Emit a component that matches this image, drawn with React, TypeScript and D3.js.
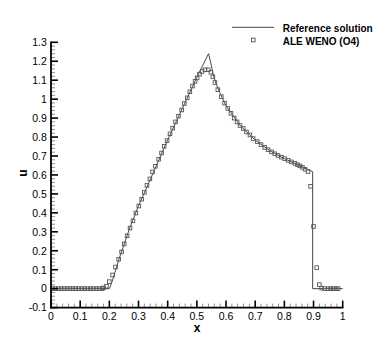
import React from 'react';
import { scaleLinear, line, range } from 'd3';

// reference solution (exact) polyline
const refX = [0, 0.2, 0.21, 0.235, 0.27, 0.3, 0.35, 0.4, 0.45, 0.5, 0.54, 0.548, 0.556, 0.565, 0.58, 0.6, 0.65, 0.7, 0.75, 0.8, 0.85, 0.897, 0.897, 1.0];
const refU = [0, 0, 0.04, 0.165, 0.32, 0.437, 0.61, 0.785, 0.95, 1.115, 1.24, 1.19, 1.13, 1.085, 1.03, 0.965, 0.858, 0.784, 0.728, 0.686, 0.651, 0.617, 0, 0];

// ALE WENO (O4) cell values
const wenoX = [
  0.005, 0.015, 0.025, 0.035, 0.045, 0.055, 0.065, 0.075, 0.085, 0.095, 0.105, 0.115, 0.125, 0.135, 0.145, 0.155, 0.165, 0.175,
  0.18, 0.19, 0.2, 0.211, 0.221, 0.232, 0.242, 0.251, 0.261, 0.271, 0.281, 0.291, 0.301, 0.311, 0.32, 0.329, 0.339, 0.348,
  0.358, 0.369, 0.379, 0.388, 0.398, 0.408, 0.417, 0.427, 0.437, 0.448, 0.457, 0.467, 0.476, 0.485, 0.494, 0.501, 0.509,
  0.518, 0.528, 0.539, 0.548, 0.555, 0.562, 0.572, 0.584, 0.595, 0.606, 0.617, 0.628, 0.638, 0.648, 0.659, 0.67, 0.682,
  0.693, 0.707, 0.72, 0.733, 0.744, 0.756, 0.767, 0.778, 0.79, 0.801, 0.813, 0.824, 0.836, 0.845, 0.853, 0.862, 0.871,
  0.881, 0.89, 0.9, 0.911, 0.92, 0.928, 0.938, 0.95, 0.959, 0.968, 0.977, 0.984,
];
const wenoU = [
  0, 0, 0, 0, 0, 0, 0, 0, 0, 0, 0, 0, 0, 0, 0, 0, 0, 0,
  0.004, 0.013, 0.037, 0.072, 0.114, 0.155, 0.194, 0.236, 0.279, 0.32, 0.358, 0.399, 0.436, 0.472, 0.508, 0.545, 0.579, 0.616,
  0.646, 0.683, 0.716, 0.751, 0.781, 0.817, 0.847, 0.88, 0.91, 0.943, 0.977, 1.007, 1.039, 1.069, 1.094, 1.112, 1.132,
  1.146, 1.155, 1.155, 1.142, 1.118, 1.088, 1.05, 1.013, 0.979, 0.951, 0.925, 0.9, 0.88, 0.861, 0.845, 0.827, 0.811,
  0.792, 0.776, 0.76, 0.745, 0.733, 0.722, 0.712, 0.703, 0.694, 0.686, 0.677, 0.669, 0.661, 0.654, 0.648, 0.64, 0.63,
  0.618, 0.54, 0.328, 0.111, 0.021, 0.003, 0, 0, 0, 0, 0, 0,
];

const xTicks = [0, 0.1, 0.2, 0.3, 0.4, 0.5, 0.6, 0.7, 0.8, 0.9, 1];
const xTickLabels = ['0', '0.1', '0.2', '0.3', '0.4', '0.5', '0.6', '0.7', '0.8', '0.9', '1'];
const yTicks = [-0.1, 0, 0.1, 0.2, 0.3, 0.4, 0.5, 0.6, 0.7, 0.8, 0.9, 1, 1.1, 1.2, 1.3];
const yTickLabels = ['-0.1', '0', '0.1', '0.2', '0.3', '0.4', '0.5', '0.6', '0.7', '0.8', '0.9', '1', '1.1', '1.2', '1.3'];

const W = 390;
const H = 347;
const font = '"Liberation Sans", Arial, Helvetica, sans-serif';

export default function App() {
  const x = scaleLinear().domain([0, 1]).range([51, 342.7]);
  const y = scaleLinear().domain([-0.1, 1.3]).range([307.6, 42.3]);

  const path = line<number>()
    .x((d, i) => x(refX[i]))
    .y(d => y(d));

  const minorX = range(0, 50).map(i => i * 0.02).filter((v, i) => i % 5 !== 0);
  const minorY = range(0, 70).map(i => -0.1 + i * 0.02).filter((v, i) => i % 5 !== 0);

  const ms = 3.6; // marker size

  return (
    <svg width={W} height={H} style={{ position: 'absolute', left: 0, top: 0, background: '#fff' }} fontFamily={font}>
      {/* reference solution */}
      <path d={path(refU) || ''} fill="none" stroke="#333" strokeWidth={0.9} />

      {/* ALE WENO markers */}
      {wenoX.map((xv, i) => (
        <rect key={i} x={x(xv) - ms / 2} y={y(wenoU[i]) - ms / 2} width={ms} height={ms}
          fill="none" stroke="#555" strokeWidth={0.9} />
      ))}

      {/* minor ticks */}
      {minorX.map((v, i) => (
        <line key={'mx' + i} x1={x(v)} x2={x(v)} y1={y(-0.1)} y2={y(-0.1) - 4} stroke="#777" strokeWidth={0.8} />
      ))}
      {minorY.map((v, i) => (
        <line key={'my' + i} x1={x(0)} x2={x(0) + 4} y1={y(v)} y2={y(v)} stroke="#777" strokeWidth={0.8} />
      ))}

      {/* major ticks + labels */}
      {xTicks.map((v, i) => (
        <g key={'xt' + i}>
          <line x1={x(v)} x2={x(v)} y1={y(-0.1)} y2={y(-0.1) - 7} stroke="#000" strokeWidth={1.6} />
          <text x={x(v)} y={320} textAnchor="middle" fontSize={10.5} fill="#000">{xTickLabels[i]}</text>
        </g>
      ))}
      {yTicks.map((v, i) => (
        <g key={'yt' + i}>
          <line x1={x(0)} x2={x(0) + 7} y1={y(v)} y2={y(v)} stroke="#000" strokeWidth={1.6} />
          <text x={46.8} y={y(v) + 3.8} textAnchor="end" fontSize={10.5} fill="#000">{yTickLabels[i]}</text>
        </g>
      ))}

      {/* axes */}
      <line x1={x(0)} x2={x(0)} y1={y(1.3) - 0.8} y2={y(-0.1) + 0.8} stroke="#000" strokeWidth={1.8} />
      <line x1={x(0) - 0.8} x2={x(1) + 0.8} y1={y(-0.1)} y2={y(-0.1)} stroke="#000" strokeWidth={1.8} />

      {/* axis titles */}
      <text x={197} y={332} textAnchor="middle" fontSize={12} fontWeight="bold">x</text>
      <text transform="translate(27,173) rotate(-90)" textAnchor="middle" fontSize={12} fontWeight="bold">u</text>

      {/* legend */}
      <line x1={232} x2={274} y1={27.3} y2={27.3} stroke="#333" strokeWidth={0.9} />
      <text x={282.7} y={31.5} fontSize={10} fontWeight="bold">Reference solution</text>
      <rect x={253.3 - ms / 2} y={40 - ms / 2} width={ms} height={ms} fill="none" stroke="#555" strokeWidth={0.9} />
      <text x={282.7} y={44.5} fontSize={10} fontWeight="bold">ALE WENO (O4)</text>
    </svg>
  );
}
